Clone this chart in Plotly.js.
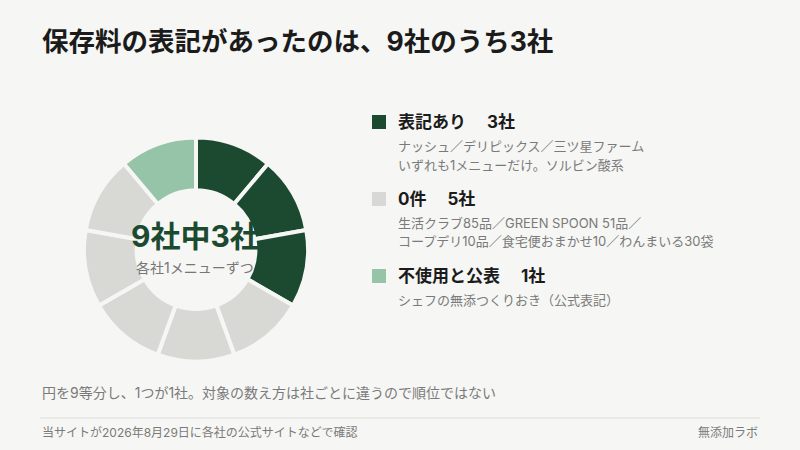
<!DOCTYPE html>
<html><head><meta charset="utf-8">
<script src="https://cdn.plot.ly/plotly-3.0.1.min.js"></script>
<style>html,body{margin:0;padding:0;background:#f6f6f4;}#c{width:800px;height:450px;}</style>
</head><body><div id="c"></div>
<script>
const companies = ['表記あり1','表記あり2','表記あり3','0件1','0件2','0件3','0件4','0件5','不使用と公表'];
const companyValues = [1,1,1,1,1,1,1,1,1];
const groupLabels = ['表記あり\u3000 3社','0件\u3000 5社','不使用と公表\u3000 1社'];
const groupCounts = [3,5,1];
const groupColors = ['#1c4a31','#d8d8d4','#95c4a9'];
const groupNotes = [
  ['ナッシュ／デリピックス／三ツ星ファーム','いずれも1メニューだけ。ソルビン酸系'],
  ['生活クラブ85品／GREEN SPOON 51品／','コープデリ10品／食宅便おまかせ10／わんまいる30袋'],
  ['シェフの無添つくりおき（公式表記）']
];
const titleText = '保存料の表記があったのは、9社のうち3社';
const centerMain = '9社中3社';
const centerSub = '各社1メニューずつ';
const noteText = '円を9等分し、1つが1社。対象の数え方は社ごとに違うので順位ではない';
const sourceText = '当サイトが2026年8月29日に各社の公式サイトなどで確認';
const brandText = '無添加ラボ';

const sliceColors = [];
groupCounts.forEach((n,i)=>{for(let k=0;k<n;k++) sliceColors.push(groupColors[i]);});

const W=800,H=450;
const px = x => x/W, py = y => 1 - y/H;
const font = 'Inter, "Noto Sans CJK JP", "Noto Sans", sans-serif';
const bg = '#f6f6f4';

const annotations = [];
const shapes = [];
annotations.push({x:px(40),y:py(41),xref:'paper',yref:'paper',xanchor:'left',yanchor:'middle',showarrow:false,
  text:'<b>'+titleText+'</b>',font:{family:font,size:26.5,color:'#1b1b1b'}});
annotations.push({x:px(195),y:py(236),xref:'paper',yref:'paper',xanchor:'center',yanchor:'middle',showarrow:false,
  text:'<b>'+centerMain+'</b>',font:{family:font,size:30,color:'#1c4a31'}});
annotations.push({x:px(195),y:py(267),xref:'paper',yref:'paper',xanchor:'center',yanchor:'middle',showarrow:false,
  text:centerSub,font:{family:font,size:14,color:'#777777'}});

const labelY = [122,199,276];
groupLabels.forEach((lab,i)=>{
  const y=labelY[i];
  shapes.push({type:'rect',xref:'paper',yref:'paper',x0:px(372),x1:px(386),y0:py(y-7),y1:py(y+7),
    fillcolor:groupColors[i],line:{width:0}});
  annotations.push({x:px(396),y:py(y),xref:'paper',yref:'paper',xanchor:'left',yanchor:'middle',showarrow:false,
    text:'<b>'+lab+'</b>',font:{family:font,size:17,color:'#1b1b1b'}});
  groupNotes[i].forEach((t,j)=>{
    annotations.push({x:px(396),y:py(y+24+j*18.5),xref:'paper',yref:'paper',xanchor:'left',yanchor:'middle',showarrow:false,
      text:t,font:{family:font,size:13,color:'#7a7a7a'}});
  });
});

annotations.push({x:px(40),y:py(392),xref:'paper',yref:'paper',xanchor:'left',yanchor:'middle',showarrow:false,
  text:noteText,font:{family:font,size:14,color:'#7a7a7a'}});
shapes.push({type:'line',xref:'paper',yref:'paper',x0:px(40),x1:px(760),y0:py(418),y1:py(418),line:{color:'#dddddd',width:1}});
annotations.push({x:px(40),y:py(432),xref:'paper',yref:'paper',xanchor:'left',yanchor:'middle',showarrow:false,
  text:sourceText,font:{family:font,size:12,color:'#7a7a7a'}});
annotations.push({x:px(760),y:py(432),xref:'paper',yref:'paper',xanchor:'right',yanchor:'middle',showarrow:false,
  text:brandText,font:{family:font,size:12,color:'#7a7a7a'}});

const trace = {type:'pie',labels:companies,values:companyValues,hole:0.53,sort:false,direction:'clockwise',rotation:0,
  marker:{colors:sliceColors,line:{color:bg,width:4}},textinfo:'none',hoverinfo:'skip',showlegend:false,
  domain:{x:[px(84),px(308)],y:[py(361.5),py(137.5)]}};

Plotly.newPlot('c',[trace],{width:W,height:H,margin:{l:0,r:0,t:0,b:0},paper_bgcolor:bg,plot_bgcolor:bg,
  showlegend:false,annotations:annotations,shapes:shapes,font:{family:font}},{staticPlot:true,displayModeBar:false});
</script></body></html>
